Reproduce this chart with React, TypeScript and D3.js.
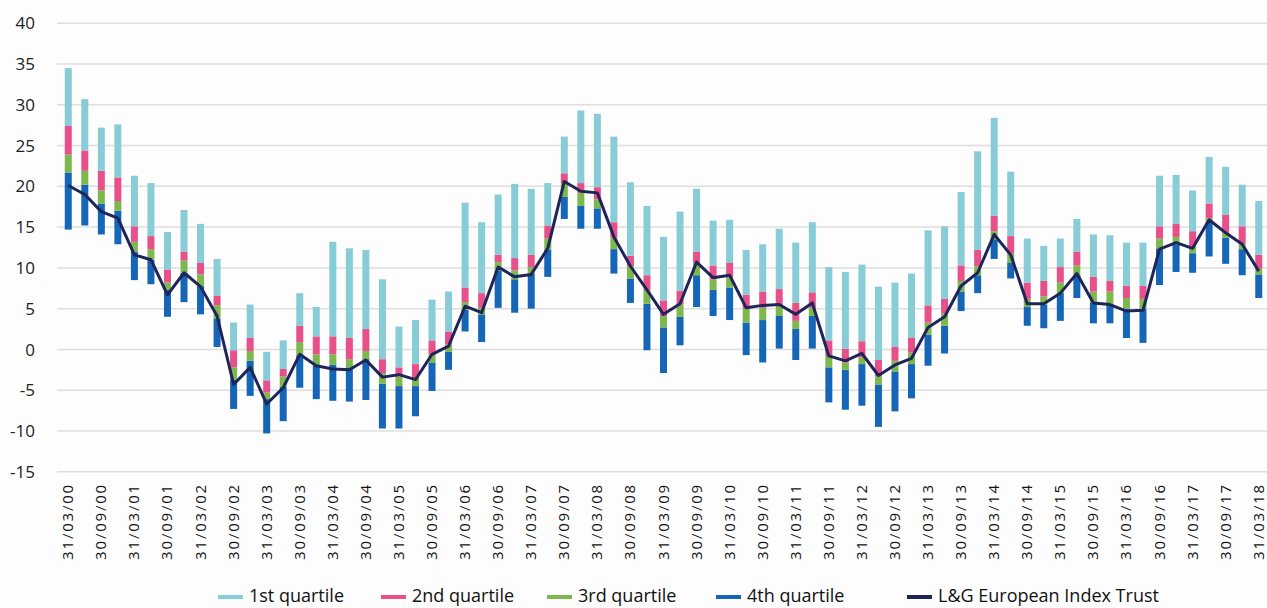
import React from "react"
import * as d3 from "d3"

// quarter ends, 31/03/00 .. 31/03/18
const quarterEnds = ["31/03", "30/06", "30/09", "31/12"]
const quarters: string[] = []
for (let y = 0; y <= 18; y++) {
  for (const q of quarterEnds) {
    if (y === 18 && q !== "31/03") break
    quarters.push(`${q}/${String(y).padStart(2, "0")}`)
  }
}

// top of 1st quartile (sector max)
const maxVals = [
  34.5, 30.7, 27.2, 27.6, 21.3, 20.4, 14.4, 17.1, 15.4, 11.1, 3.3, 5.5, -0.3,
  1.1, 6.9, 5.2, 13.2, 12.4, 12.2, 8.6, 2.8, 3.6, 6.1, 7.1, 18.0, 15.6, 19.0,
  20.3, 19.7, 20.4, 26.1, 29.3, 28.9, 26.1, 20.5, 17.6, 13.8, 16.9, 19.7, 15.8,
  15.9, 12.2, 12.9, 14.8, 13.1, 15.6, 10.1, 9.5, 10.4, 7.7, 8.2, 9.3, 14.6,
  15.1, 19.3, 24.3, 28.4, 21.8, 13.6, 12.7, 13.6, 16.0, 14.1, 14.0, 13.1, 13.1,
  21.3, 21.4, 19.5, 23.6, 22.4, 20.2, 18.2,
]
// boundary 1st / 2nd quartile
const upperQ = [
  27.4, 24.4, 21.9, 21.1, 15.1, 13.9, 9.8, 12.0, 10.6, 6.6, -0.1, 1.4, -3.8,
  -2.4, 2.9, 1.6, 1.6, 1.4, 2.5, -1.2, -2.2, -1.8, 1.1, 2.2, 7.6, 6.9, 11.6,
  11.2, 11.6, 15.2, 21.6, 20.4, 19.9, 15.6, 11.5, 9.1, 6.0, 7.2, 12.0, 10.3,
  10.6, 6.7, 7.1, 7.4, 5.7, 7.0, 1.1, 0.1, 1.0, -1.3, 0.3, 1.4, 5.4, 6.2, 10.3,
  12.2, 16.4, 13.9, 8.2, 8.4, 10.1, 12.0, 8.9, 8.4, 7.8, 7.8, 15.1, 15.4, 14.5,
  17.9, 16.5, 15.1, 11.6,
]
// boundary 2nd / 3rd quartile (median)
const medians = [
  23.9, 21.9, 19.5, 18.2, 13.2, 12.3, 8.2, 10.9, 9.2, 5.4, -2.2, -0.2, -5.3,
  -3.3, 0.9, -0.6, -0.6, -1.2, -0.2, -2.9, -3.3, -3.5, -0.6, 0.6, 5.8, 5.1,
  10.7, 9.7, 10.1, 13.6, 20.4, 19.2, 18.4, 13.7, 10.2, 7.3, 4.1, 5.5, 10.6, 8.6,
  8.8, 5.0, 5.1, 5.4, 3.5, 5.1, -0.8, -1.6, -1.0, -3.3, -1.4, -0.4, 3.3, 4.4,
  8.4, 10.2, 14.5, 11.8, 6.2, 6.5, 8.2, 10.3, 7.1, 7.1, 6.3, 6.2, 13.6, 13.8,
  12.6, 16.1, 14.3, 12.9, 9.9,
]
// boundary 3rd / 4th quartile
const lowerQ = [
  21.7, 20.2, 17.9, 17.0, 12.0, 11.0, 7.3, 9.4, 7.8, 3.8, -3.7, -1.4, -6.1,
  -4.6, -0.7, -2.0, -1.9, -2.2, -1.2, -4.2, -4.5, -4.5, -1.6, -0.3, 4.9, 4.3,
  9.7, 8.6, 9.3, 12.2, 18.7, 17.6, 17.3, 12.3, 8.7, 5.6, 2.7, 4.0, 9.1, 7.3,
  7.6, 3.3, 3.6, 4.1, 2.5, 4.1, -2.2, -2.5, -1.8, -4.3, -2.7, -1.8, 1.8, 2.9,
  7.1, 9.1, 13.5, 10.6, 5.2, 5.5, 6.9, 9.1, 5.7, 5.6, 5.0, 5.0, 12.4, 12.9,
  11.8, 15.6, 13.7, 12.3, 9.2,
]
// bottom of 4th quartile (sector min)
const minVals = [
  14.7, 15.2, 14.1, 12.9, 8.5, 8.0, 4.0, 5.8, 4.3, 0.3, -7.3, -5.7, -10.3,
  -8.8, -4.7, -6.1, -6.3, -6.4, -6.2, -9.7, -9.7, -8.2, -5.1, -2.5, 2.2, 0.9,
  5.1, 4.5, 5.0, 8.9, 16.0, 14.8, 14.8, 9.3, 5.7, -0.1, -2.9, 0.5, 5.2, 4.1,
  3.6, -0.7, -1.6, 0.1, -1.3, 0.1, -6.5, -7.4, -6.9, -9.5, -7.6, -6.0, -2.0,
  -0.5, 4.7, 6.9, 11.1, 8.7, 2.9, 2.6, 3.5, 6.3, 3.2, 3.2, 1.4, 0.8, 7.9, 9.5,
  9.4, 11.4, 10.5, 9.1, 6.3,
]
// L&G European Index Trust
const trust = [
  20.1, 19.0, 16.9, 16.1, 11.6, 11.0, 6.7, 9.4, 7.7, 4.1, -4.3, -2.2, -6.7,
  -4.7, -0.6, -2.0, -2.4, -2.5, -1.3, -3.4, -3.1, -3.7, -0.6, 0.4, 5.3, 4.5,
  10.1, 8.9, 9.2, 12.4, 20.6, 19.4, 19.2, 13.8, 10.2, 7.3, 4.3, 5.6, 10.7, 8.8,
  9.1, 5.1, 5.4, 5.5, 4.3, 5.7, -0.8, -1.4, -0.5, -3.2, -1.9, -1.1, 2.7, 4.0,
  7.8, 9.4, 14.1, 11.6, 5.6, 5.6, 6.9, 9.3, 5.7, 5.5, 4.7, 4.8, 12.3, 13.1,
  12.4, 15.9, 14.3, 12.9, 9.6,
]

const yTicks = [40, 35, 30, 25, 20, 15, 10, 5, 0, -5, -10, -15]

const seriesNames = [
  "1st quartile",
  "2nd quartile",
  "3rd quartile",
  "4th quartile",
  "L&G European Index Trust",
]
const colors = ["#87ccd6", "#e8508a", "#7cb84c", "#1566b7", "#1f2559"]

const W = 1267
const H = 608
const font = "'Open Sans', sans-serif"

export default function App() {
  const x = d3.scaleBand<string>().domain(quarters).range([60, 1267]).padding(0)
  const y = d3.scaleLinear().domain([-15, 40]).range([471.7, 23.3])
  const bw = 7
  const cx = (q: string) => (x(q) ?? 0) + x.bandwidth() / 2

  // segments bottom -> top: 4th, 3rd, 2nd, 1st
  const segs = quarters.map((q, i) => [
    { lo: minVals[i], hi: lowerQ[i], c: colors[3] },
    { lo: lowerQ[i], hi: medians[i], c: colors[2] },
    { lo: medians[i], hi: upperQ[i], c: colors[1] },
    { lo: upperQ[i], hi: maxVals[i], c: colors[0] },
  ])

  const line = d3
    .line<number>()
    .x((_, i) => cx(quarters[i]))
    .y(d => y(d))

  const legendX = [218, 381, 547, 716, 907]

  return (
    <svg
      width={W}
      height={H}
      style={{ position: "absolute", left: 0, top: 0, background: "#fdfdfd" }}
    >
      {yTicks.map(t => (
        <g key={t}>
          <line
            x1={57}
            x2={W}
            y1={y(t)}
            y2={y(t)}
            stroke="#dedede"
            strokeWidth={1.5}
          />
          <text
            x={35}
            y={y(t)}
            dy="0.36em"
            textAnchor="end"
            fontFamily={font}
            fontSize={17}
            fill="#222"
          >
            {t}
          </text>
        </g>
      ))}

      {segs.map((s, i) => (
        <g key={quarters[i]}>
          {s.map((d, j) => (
            <rect
              key={j}
              x={cx(quarters[i]) - bw / 2}
              width={bw}
              y={y(d.hi)}
              height={Math.max(0, y(d.lo) - y(d.hi))}
              fill={d.c}
            />
          ))}
        </g>
      ))}

      <path
        d={line(trust) ?? ""}
        fill="none"
        stroke={colors[4]}
        strokeWidth={3}
        strokeLinejoin="round"
      />

      {quarters
        .filter(q => q.startsWith("31/03") || q.startsWith("30/09"))
        .map(q => (
          <text
            key={q}
            transform={`translate(${cx(q) + 5},483) rotate(-90)`}
            textAnchor="end"
            fontFamily={font}
            fontSize={15}
            letterSpacing={1.8}
            fill="#111"
          >
            {q}
          </text>
        ))}

      {seriesNames.map((n, i) => (
        <g key={n} transform={`translate(${legendX[i]},597)`}>
          <line x1={0} x2={25} y1={0} y2={0} stroke={colors[i]} strokeWidth={4} />
          <text x={31} y={5} fontFamily={font} fontSize={18} fill="#111">
            {n}
          </text>
        </g>
      ))}
    </svg>
  )
}
